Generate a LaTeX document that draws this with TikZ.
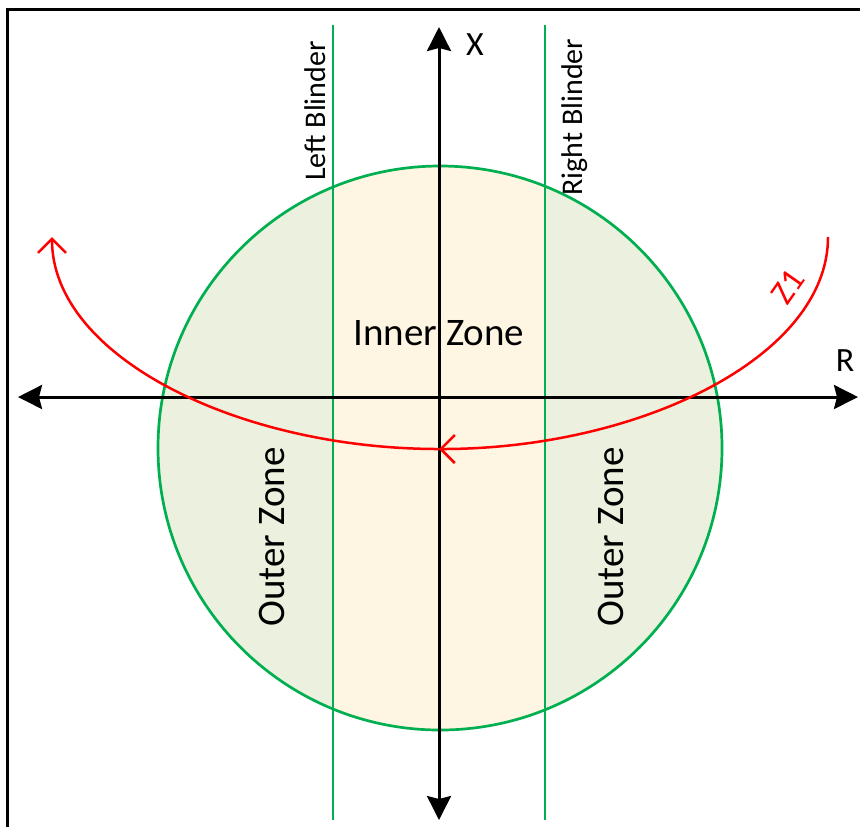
\documentclass[tikz,border=0pt]{standalone}
\usepackage{fontspec}
\setmainfont{Carlito}
\usepackage{xcolor}
\usetikzlibrary{arrows.meta}

\definecolor{blindgreen}{HTML}{00B050}
\definecolor{outerfill}{HTML}{EBF1DE}
\definecolor{innerfill}{HTML}{FEF5E2}

\begin{document}
\begin{tikzpicture}[x=0.5pt,y=-0.5pt,
    axis/.style={line width=1.5pt,{Stealth[length=12pt,width=12pt,inset=1.5pt]}-{Stealth[length=12pt,width=12pt,inset=1.5pt]}},
    blinder/.style={draw=blindgreen,line width=1.35pt},
    zone/.style={font=\fontsize{19.5}{22}\selectfont},
    blindlabel/.style={font=\fontsize{15}{17}\selectfont,rotate=90},
    zcurve/.style={draw=red,line width=1.25pt,-{Straight Barb[length=7pt,width=14pt]}}]
  \useasboundingbox (0,0) rectangle (860,827);
  % frame
  \draw[line width=1.5pt] (7,827) -- (7,9) -- (860,9);
  % zones
  \fill[outerfill] (440,448) circle (282);
  \begin{scope}
    \clip (440,448) circle (282);
    \fill[innerfill] (333,0) rectangle (545,827);
  \end{scope}
  \draw[blindgreen,line width=1.35pt] (440,448) circle (282);
  % blinders
  \coordinate (lbtop) at (333,25);  \coordinate (lbbot) at (333,820);
  \coordinate (rbtop) at (545,25);  \coordinate (rbbot) at (545,820);
  \draw[blinder] (lbtop) -- (lbbot);
  \draw[blinder] (rbtop) -- (rbbot);
  % axes
  \coordinate (xtop) at (439,27);   \coordinate (xbot) at (439,820);
  \coordinate (rleft) at (18,397);  \coordinate (rright) at (858,397);
  \draw[axis] (xbot) -- (xtop);
  \draw[axis] (rleft) -- (rright);
  \node[font=\fontsize{17}{20}\selectfont] (xlab) at (475,45) {X};
  \node[font=\fontsize{17}{20}\selectfont] (rlab) at (845,361) {R};
  % labels
  \node[blindlabel] (lblind) at (315,111) {Left Blinder};
  \node[blindlabel] (rblind) at (575,117) {Right Blinder};
  \node[zone] (inner) at (439,333) {Inner Zone};
  \node[zone,rotate=90] (outerl) at (272,537) {Outer Zone};
  \node[zone,rotate=90] (outerr) at (611,537) {Outer Zone};
  % Z1 characteristic
  \coordinate (zright) at (828,237);
  \coordinate (zmid) at (439,449);
  \coordinate (zleft) at (52,237);
  \draw[zcurve] (zright) .. controls (828,357) and (639,449) .. (zmid);
  \draw[zcurve] (zmid) .. controls (239,449) and (52,357) .. (zleft);
  \node[red,font=\fontsize{17}{19}\selectfont,rotate=55,inner sep=1pt] (zlab) at (788,287) {Z1};
\end{tikzpicture}
\end{document}
